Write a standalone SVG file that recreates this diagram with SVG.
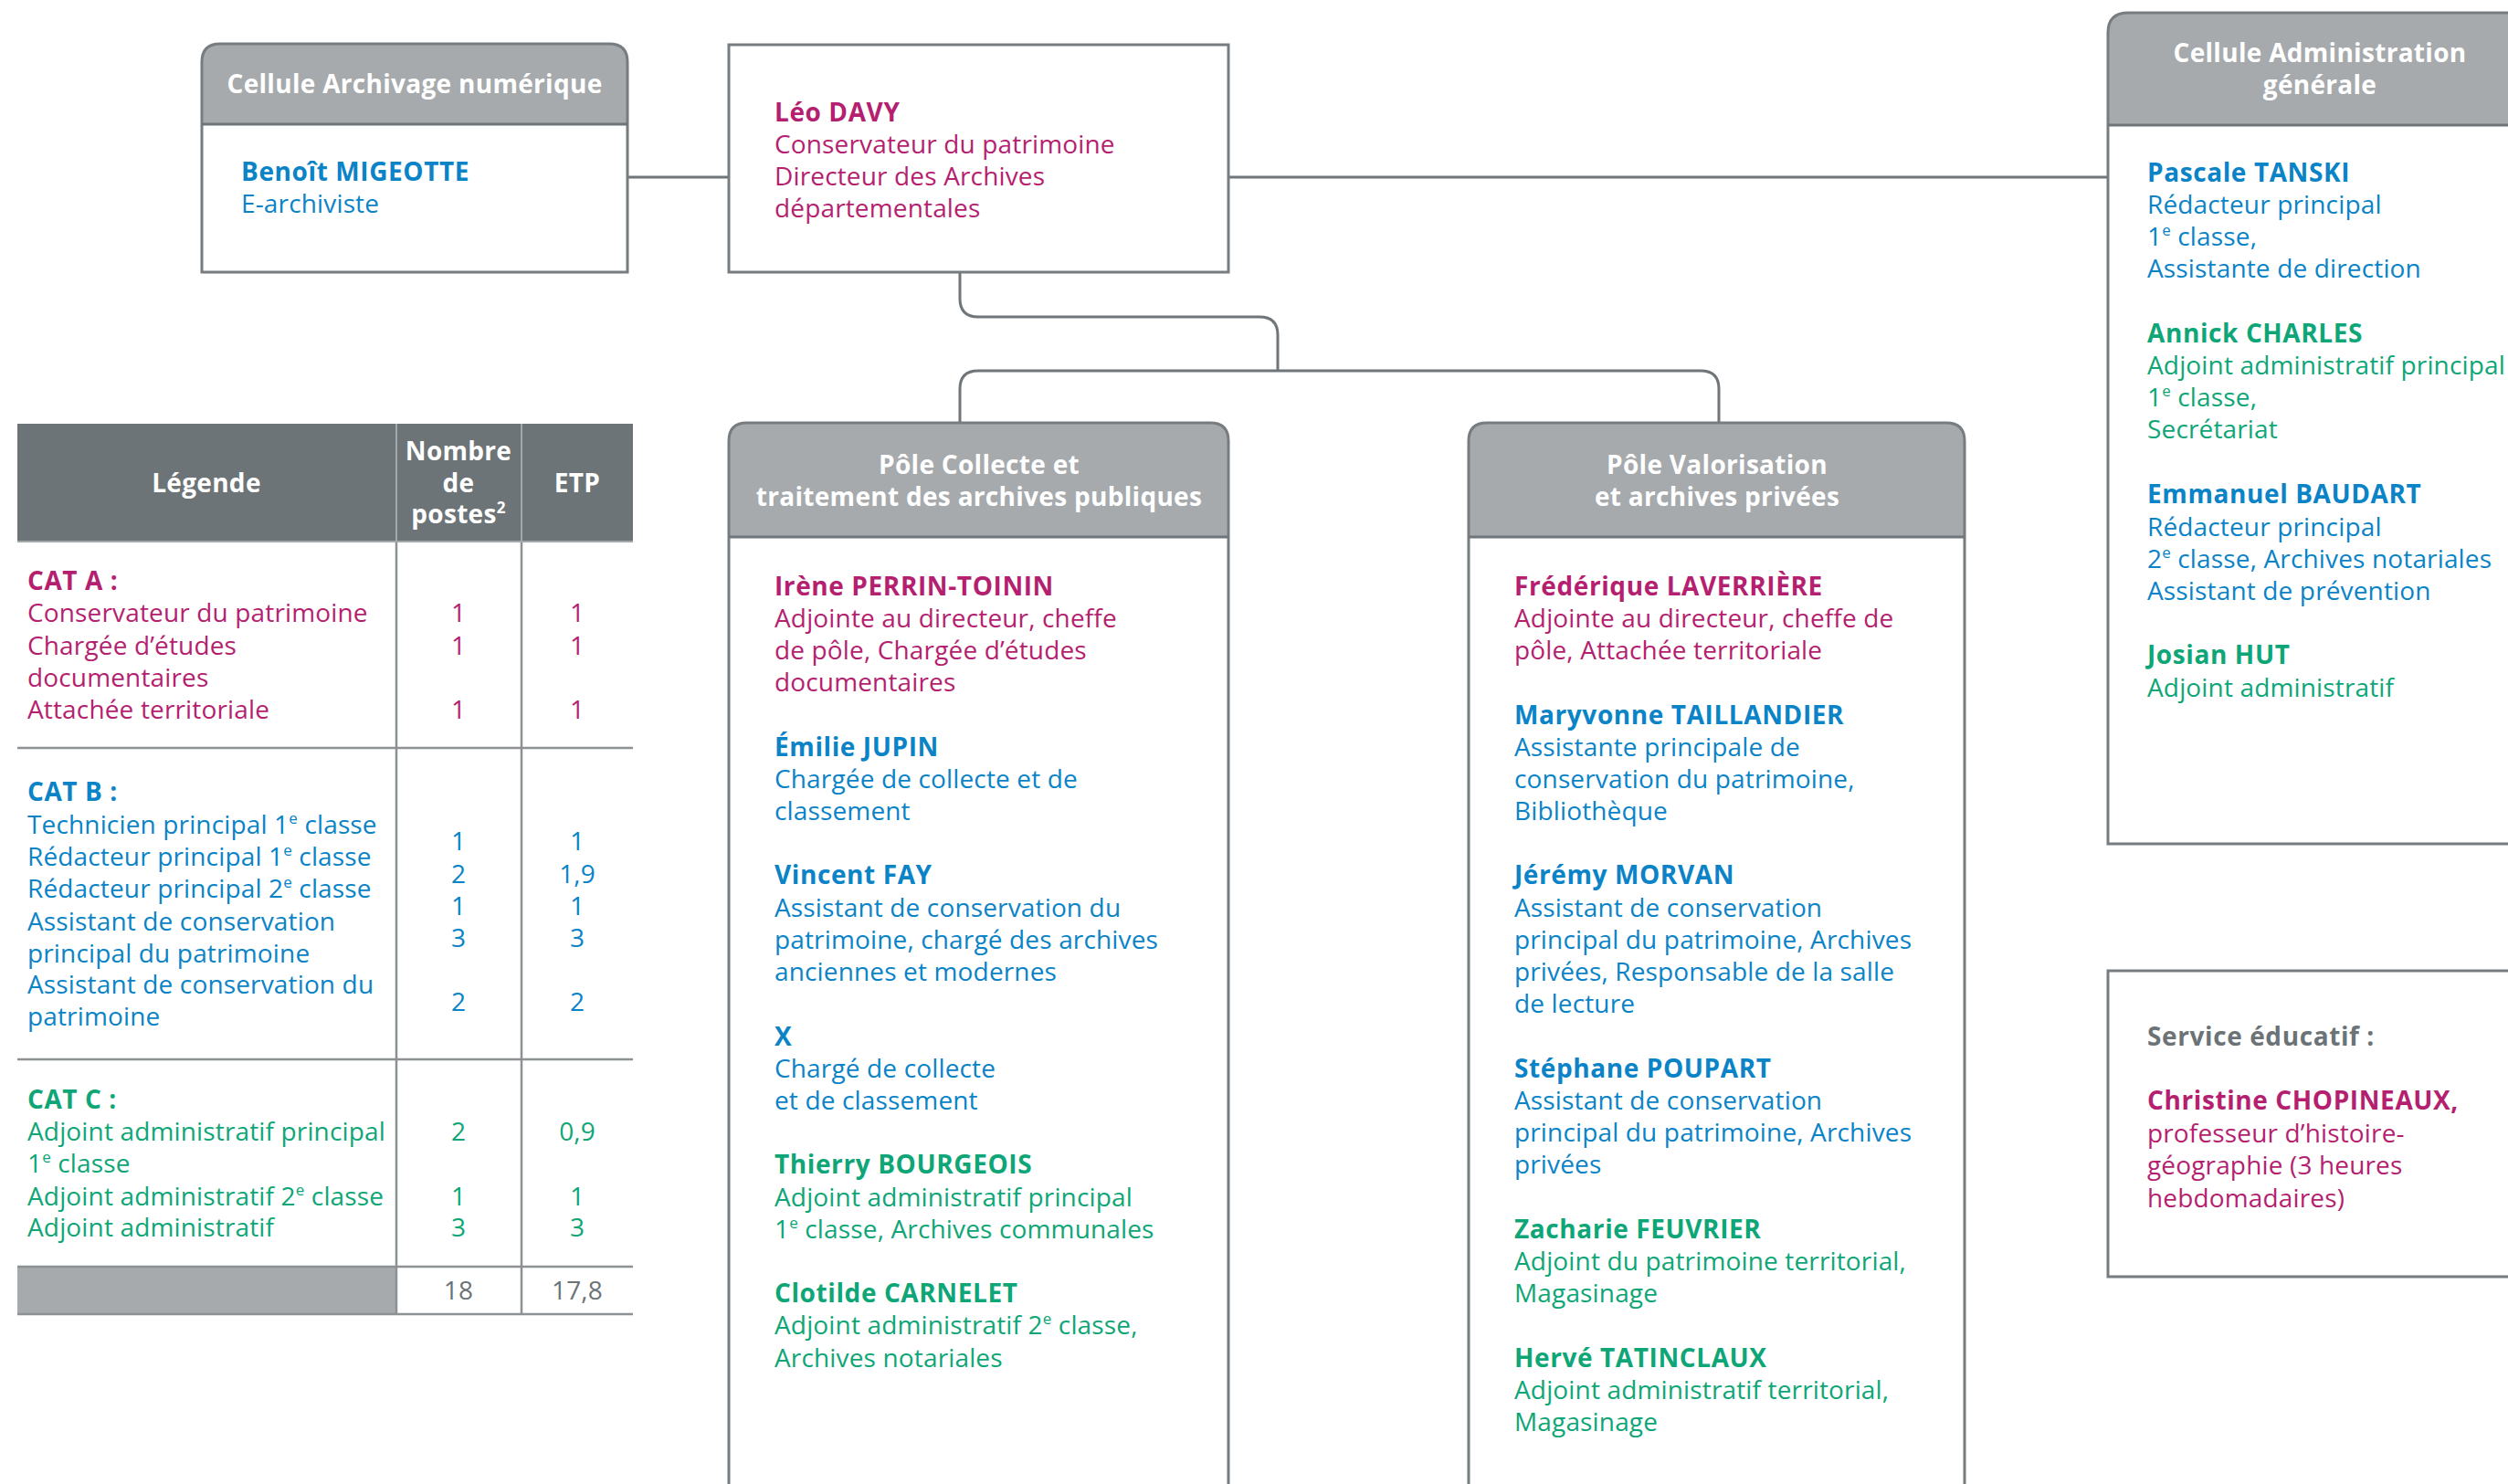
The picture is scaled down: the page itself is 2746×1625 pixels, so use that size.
<svg xmlns="http://www.w3.org/2000/svg" width="2746" height="1625" viewBox="0 0 2746 1625">
<style>
  text { font-family: "Open Sans", "Liberation Sans", sans-serif; font-size: 28px; letter-spacing: 0.15px; }
  .b { font-weight: 700; letter-spacing: 0.6px; }
  .hd { font-weight: 700; fill: #ffffff; text-anchor: middle; letter-spacing: 0.3px; }
  .mag { fill: #b51f70; }
  .blu { fill: #0a83c7; }
  .grn { fill: #0ea677; }
  .gry { fill: #6b7377; }
  .num { text-anchor: middle; }
  .sup { font-size: 17px; }
  .box { fill: none; stroke: #767c7f; stroke-width: 3; }
  .hfill { fill: #a6aaad; stroke: none; }
  .sep { stroke: #6f7578; stroke-width: 3; }
  .conn { fill: none; stroke: #6f7578; stroke-width: 3; }
  .tl { stroke: #8c9194; stroke-width: 2.5; }
  .tlh { stroke: #a3a8ab; stroke-width: 2; }
</style>

<rect x="0" y="0" width="2746" height="1625" fill="#ffffff"/>

<g id="connectors">
  <path class="conn" d="M687,194 H798"/>
  <path class="conn" d="M1345,194 H2308"/>
  <path class="conn" d="M1051,298 V327 Q1051,347 1071,347 H1379 Q1399,347 1399,367 V406"/>
  <path class="conn" d="M1051,463 V426 Q1051,406 1071,406 H1862 Q1882,406 1882,426 V463"/>
</g>

<g id="cellule-archivage">
  <path class="hfill" d="M221,136 V68 Q221,48 241,48 H667 Q687,48 687,68 V136 Z"/>
  <path class="box" fill="none" d="M221,298 V68 Q221,48 241,48 H667 Q687,48 687,68 V298 Z"/>
  <line class="sep" x1="221" y1="136" x2="687" y2="136"/>
  <text class="hd" x="454" y="102">Cellule Archivage numérique</text>
  <text class="b blu" x="264" y="198">Benoît MIGEOTTE</text>
  <text class="blu" x="264" y="233">E-archiviste</text>
</g>

<g id="directeur">
  <rect class="box" x="798" y="49" width="547" height="249" fill="#ffffff"/>
  <text class="b mag" x="848" y="133">Léo DAVY</text>
  <text class="mag" x="848" y="168">Conservateur du patrimoine</text>
  <text class="mag" x="848" y="203">Directeur des Archives</text>
  <text class="mag" x="848" y="238">départementales</text>
</g>

<g id="cellule-administration">
  <path class="hfill" d="M2308,137 V36 Q2308,14 2330,14 H2770 V137 Z"/>
  <path class="box" d="M2770,924 H2308 V36 Q2308,14 2330,14 H2770"/>
  <line class="sep" x1="2308" y1="137" x2="2770" y2="137"/>
  <text class="hd" x="2540" y="68">Cellule Administration</text>
  <text class="hd" x="2540" y="103">générale</text>
  <text class="b blu" x="2351" y="199">Pascale TANSKI</text>
  <text class="blu" x="2351" y="234">Rédacteur principal</text>
  <text class="blu" x="2351" y="269">1<tspan class="sup" dy="-11">e</tspan><tspan dy="11"> classe,</tspan></text>
  <text class="blu" x="2351" y="304">Assistante de direction</text>
  <text class="b grn" x="2351" y="375">Annick CHARLES</text>
  <text class="grn" x="2351" y="410">Adjoint administratif principal</text>
  <text class="grn" x="2351" y="445">1<tspan class="sup" dy="-11">e</tspan><tspan dy="11"> classe,</tspan></text>
  <text class="grn" x="2351" y="480">Secrétariat</text>
  <text class="b blu" x="2351" y="551">Emmanuel BAUDART</text>
  <text class="blu" x="2351" y="587">Rédacteur principal</text>
  <text class="blu" x="2351" y="622">2<tspan class="sup" dy="-11">e</tspan><tspan dy="11"> classe, Archives notariales</tspan></text>
  <text class="blu" x="2351" y="657">Assistant de prévention</text>
  <text class="b grn" x="2351" y="727">Josian HUT</text>
  <text class="grn" x="2351" y="763">Adjoint administratif</text>
</g>

<g id="service-educatif">
  <path class="box" d="M2770,1063 H2308 V1398 H2770"/>
  <text class="b gry" x="2351" y="1145">Service éducatif :</text>
  <text class="b mag" x="2351" y="1215">Christine CHOPINEAUX,</text>
  <text class="mag" x="2351" y="1251">professeur d’histoire-</text>
  <text class="mag" x="2351" y="1286">géographie (3 heures</text>
  <text class="mag" x="2351" y="1322">hebdomadaires)</text>
</g>

<g id="pole-collecte">
  <path class="hfill" d="M798,588 V483 Q798,463 818,463 H1325 Q1345,463 1345,483 V588 Z"/>
  <path class="box" d="M798,1640 V483 Q798,463 818,463 H1325 Q1345,463 1345,483 V1640"/>
  <line class="sep" x1="798" y1="588" x2="1345" y2="588"/>
  <text class="hd" x="1072" y="519">Pôle Collecte et</text>
  <text class="hd" x="1072" y="554">traitement des archives publiques</text>
  <text class="b mag" x="848" y="652">Irène PERRIN-TOININ</text>
  <text class="mag" x="848" y="687">Adjointe au directeur, cheffe</text>
  <text class="mag" x="848" y="722">de pôle, Chargée d’études</text>
  <text class="mag" x="848" y="757">documentaires</text>
  <text class="b blu" x="848" y="828">Émilie JUPIN</text>
  <text class="blu" x="848" y="863">Chargée de collecte et de</text>
  <text class="blu" x="848" y="898">classement</text>
  <text class="b blu" x="848" y="968">Vincent FAY</text>
  <text class="blu" x="848" y="1004">Assistant de conservation du</text>
  <text class="blu" x="848" y="1039">patrimoine, chargé des archives</text>
  <text class="blu" x="848" y="1074">anciennes et modernes</text>
  <text class="b blu" x="848" y="1145">X</text>
  <text class="blu" x="848" y="1180">Chargé de collecte</text>
  <text class="blu" x="848" y="1215">et de classement</text>
  <text class="b grn" x="848" y="1285">Thierry BOURGEOIS</text>
  <text class="grn" x="848" y="1321">Adjoint administratif principal</text>
  <text class="grn" x="848" y="1356">1<tspan class="sup" dy="-11">e</tspan><tspan dy="11"> classe, Archives communales</tspan></text>
  <text class="b grn" x="848" y="1426">Clotilde CARNELET</text>
  <text class="grn" x="848" y="1461">Adjoint administratif 2<tspan class="sup" dy="-11">e</tspan><tspan dy="11"> classe,</tspan></text>
  <text class="grn" x="848" y="1497">Archives notariales</text>
</g>

<g id="pole-valorisation">
  <path class="hfill" d="M1608,588 V483 Q1608,463 1628,463 H2131 Q2151,463 2151,483 V588 Z"/>
  <path class="box" d="M1608,1640 V483 Q1608,463 1628,463 H2131 Q2151,463 2151,483 V1640"/>
  <line class="sep" x1="1608" y1="588" x2="2151" y2="588"/>
  <text class="hd" x="1880" y="519">Pôle Valorisation</text>
  <text class="hd" x="1880" y="554">et archives privées</text>
  <text class="b mag" x="1658" y="652">Frédérique LAVERRIÈRE</text>
  <text class="mag" x="1658" y="687">Adjointe au directeur, cheffe de</text>
  <text class="mag" x="1658" y="722">pôle, Attachée territoriale</text>
  <text class="b blu" x="1658" y="793">Maryvonne TAILLANDIER</text>
  <text class="blu" x="1658" y="828">Assistante principale de</text>
  <text class="blu" x="1658" y="863">conservation du patrimoine,</text>
  <text class="blu" x="1658" y="898">Bibliothèque</text>
  <text class="b blu" x="1658" y="968">Jérémy MORVAN</text>
  <text class="blu" x="1658" y="1004">Assistant de conservation</text>
  <text class="blu" x="1658" y="1039">principal du patrimoine, Archives</text>
  <text class="blu" x="1658" y="1074">privées, Responsable de la salle</text>
  <text class="blu" x="1658" y="1109">de lecture</text>
  <text class="b blu" x="1658" y="1180">Stéphane POUPART</text>
  <text class="blu" x="1658" y="1215">Assistant de conservation</text>
  <text class="blu" x="1658" y="1250">principal du patrimoine, Archives</text>
  <text class="blu" x="1658" y="1285">privées</text>
  <text class="b grn" x="1658" y="1356">Zacharie FEUVRIER</text>
  <text class="grn" x="1658" y="1391">Adjoint du patrimoine territorial,</text>
  <text class="grn" x="1658" y="1426">Magasinage</text>
  <text class="b grn" x="1658" y="1497">Hervé TATINCLAUX</text>
  <text class="grn" x="1658" y="1532">Adjoint administratif territorial,</text>
  <text class="grn" x="1658" y="1567">Magasinage</text>
</g>

<g id="legende">
  <rect x="19" y="464" width="674" height="129" fill="#6c7477"/>
  <line class="tlh" x1="434" y1="464" x2="434" y2="593"/>
  <line class="tlh" x1="571" y1="464" x2="571" y2="593"/>
  <line class="tlh" x1="19" y1="593" x2="693" y2="593"/>
  <text class="hd" x="226" y="539">Légende</text>
  <text class="hd" x="502" y="504">Nombre</text>
  <text class="hd" x="502" y="539">de</text>
  <text class="hd" x="502" y="573">postes<tspan class="sup" dy="-11">2</tspan></text>
  <text class="hd" x="632" y="539">ETP</text>

  <rect x="19" y="1387" width="415" height="52" fill="#a6aaad"/>
  <line class="tl" x1="434" y1="594" x2="434" y2="1439"/>
  <line class="tl" x1="571" y1="594" x2="571" y2="1439"/>
  <line class="tl" x1="19" y1="819" x2="693" y2="819"/>
  <line class="tl" x1="19" y1="1160" x2="693" y2="1160"/>
  <line class="tl" x1="19" y1="1387" x2="693" y2="1387"/>
  <line class="tl" x1="19" y1="1439" x2="693" y2="1439"/>

  <text class="b mag" x="30" y="646">CAT A :</text>
  <text class="mag" x="30" y="681">Conservateur du patrimoine</text>
  <text class="mag" x="30" y="717">Chargée d’études</text>
  <text class="mag" x="30" y="752">documentaires</text>
  <text class="mag" x="30" y="787">Attachée territoriale</text>
  <text class="mag num" x="502" y="681">1</text>
  <text class="mag num" x="632" y="681">1</text>
  <text class="mag num" x="502" y="717">1</text>
  <text class="mag num" x="632" y="717">1</text>
  <text class="mag num" x="502" y="787">1</text>
  <text class="mag num" x="632" y="787">1</text>

  <text class="b blu" x="30" y="877">CAT B :</text>
  <text class="blu" x="30" y="913">Technicien principal 1<tspan class="sup" dy="-11">e</tspan><tspan dy="11"> classe</tspan></text>
  <text class="blu" x="30" y="948">Rédacteur principal 1<tspan class="sup" dy="-11">e</tspan><tspan dy="11"> classe</tspan></text>
  <text class="blu" x="30" y="983">Rédacteur principal 2<tspan class="sup" dy="-11">e</tspan><tspan dy="11"> classe</tspan></text>
  <text class="blu" x="30" y="1019">Assistant de conservation</text>
  <text class="blu" x="30" y="1054">principal du patrimoine</text>
  <text class="blu" x="30" y="1088">Assistant de conservation du</text>
  <text class="blu" x="30" y="1123">patrimoine</text>
  <text class="blu num" x="502" y="931">1</text>
  <text class="blu num" x="632" y="931">1</text>
  <text class="blu num" x="502" y="967">2</text>
  <text class="blu num" x="632" y="967">1,9</text>
  <text class="blu num" x="502" y="1002">1</text>
  <text class="blu num" x="632" y="1002">1</text>
  <text class="blu num" x="502" y="1037">3</text>
  <text class="blu num" x="632" y="1037">3</text>
  <text class="blu num" x="502" y="1107">2</text>
  <text class="blu num" x="632" y="1107">2</text>

  <text class="b grn" x="30" y="1214">CAT C :</text>
  <text class="grn" x="30" y="1249">Adjoint administratif principal</text>
  <text class="grn" x="30" y="1284">1<tspan class="sup" dy="-11">e</tspan><tspan dy="11"> classe</tspan></text>
  <text class="grn" x="30" y="1320">Adjoint administratif 2<tspan class="sup" dy="-11">e</tspan><tspan dy="11"> classe</tspan></text>
  <text class="grn" x="30" y="1354">Adjoint administratif</text>
  <text class="grn num" x="502" y="1249">2</text>
  <text class="grn num" x="632" y="1249">0,9</text>
  <text class="grn num" x="502" y="1320">1</text>
  <text class="grn num" x="632" y="1320">1</text>
  <text class="grn num" x="502" y="1354">3</text>
  <text class="grn num" x="632" y="1354">3</text>

  <text class="gry num" x="502" y="1423">18</text>
  <text class="gry num" x="632" y="1423">17,8</text>
</g>
</svg>
